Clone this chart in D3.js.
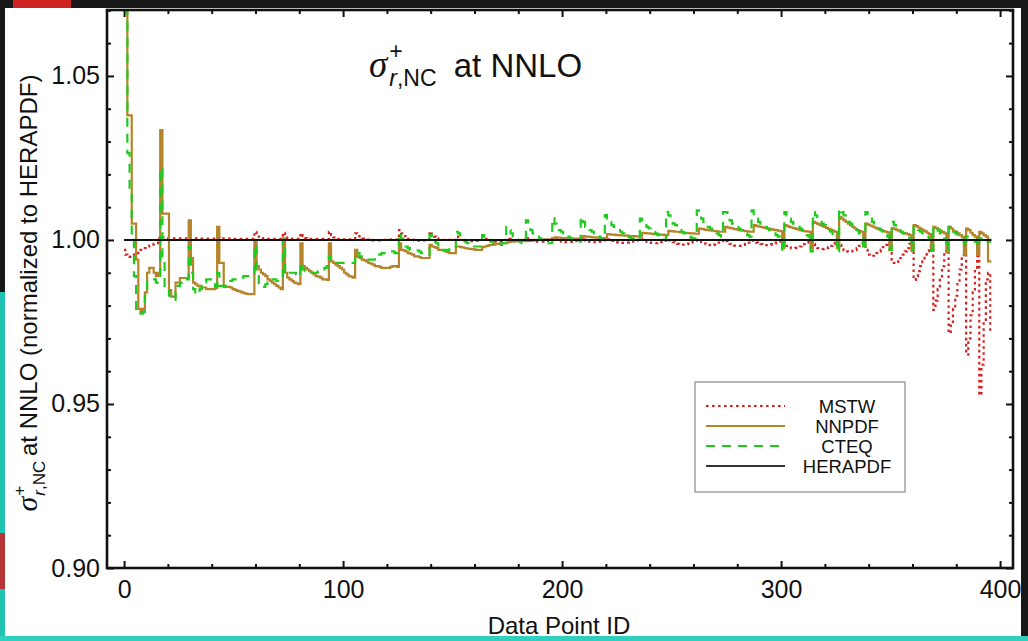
<!DOCTYPE html>
<html>
<head>
<meta charset="utf-8">
<script src="https://cdn.jsdelivr.net/npm/d3@7"></script>
<style>
  html, body { margin: 0; padding: 0; background: #161616; }
  svg { display: block; }
  text { font-family: "Liberation Sans", Arial, Helvetica, sans-serif; fill: #111; }
</style>
</head>
<body>
<svg id="chart" width="1028" height="641"></svg>
<script>
// Ratio to HERAPDF of the NC e+p reduced cross section at NNLO, one value per data point (ID 0..396)
const mstw = [
  0.997, 0.9955, 0.995, 0.9948, 0.9952, 0.9955, 0.996, 0.9965, 0.997, 0.9972, 0.9975, 0.998, 0.9983, 0.9986, 0.9988, 0.999, 1.0005,
  1.001, 1.0008, 1.0006, 1.0005, 1.0005, 1.0005, 1.0005, 1.0005, 1.0005, 1.0005, 1.0005, 1.0005, 1.0005,
  1.0008, 1.0006, 1.0005, 1.0005, 1.0005, 1.0004, 1.0004, 1.0004, 1.0004, 1.0004, 1.0004, 1.0004, 1.0004,
  1.0008, 1.0006, 1.0005, 1.0004, 1.0004, 1.0004, 1.0004, 1.0003, 1.0003, 1.0003, 1.0003, 1.0003, 1.0003, 1.0003, 1.0003, 1.0003, 1.0003,
  1.0025, 1.0015, 1.001, 1.0006, 1.0004, 1.0003, 1.0003, 1.0003, 1.0003, 1.0003, 1.0003, 1.0003, 1.0003,
  1.0022, 1.0012, 1.0006, 1.0004, 1.0003, 1.0003, 1.0003, 1.0003,
  1.002, 1.0012, 1.0006, 1.0004, 1.0003, 1.0003, 1.0003, 1.0003, 1.0003, 1.0003, 1.0003, 1.0003, 1.0003,
  1.0025, 1.0015, 1.0008, 1.0005, 1.0003, 1.0002, 1.0002, 1.0002, 1.0002, 1.0002, 1.0002, 1.0002,
  1.002, 1.0012, 1.0006, 1.0004, 1.0002, 1.0001, 1.0, 1.0, 0.9999, 0.9999, 0.9999, 0.9999, 0.9999, 1.0, 1.0, 1.0, 1.0001, 1.0001, 1.0001, 1.0001,
  1.003, 1.002, 1.0012, 1.0006, 1.0003, 1.0001, 1.0, 0.9999, 0.9998, 0.9998, 0.9998, 0.9999, 0.9999, 1.0,
  1.0025, 1.0015, 1.001, 1.0005, 1.0, 1.0, 1.0, 1.0, 1.0, 1.0, 1.0, 1.0,
  1.001, 1.0005, 1.0, 0.9998, 0.9997, 0.9996, 0.9996, 0.9996, 0.9997, 0.9998, 0.9999, 1.0,
  1.0005, 1.0003, 1.0, 0.9998, 0.9996, 0.9995, 0.9995, 0.9996, 0.9997, 0.9998, 1.0,
  1.0005, 1.0003, 1.0, 0.9998, 0.9997, 0.9996, 0.9997, 0.9998, 1.0,
  1.0005, 1.0003, 1.0, 0.9998, 0.9996, 0.9995, 0.9995, 0.9995, 0.9996, 0.9997, 0.9998, 1.0,
  1.0005, 1.0003, 1.0, 0.9997, 0.9995, 0.9994, 0.9993, 0.9993, 0.9994, 0.9995, 0.9997, 0.9998, 1.0,
  1.0004, 1.0002, 0.9999, 0.9996, 0.9994, 0.9993, 0.9993, 0.9994, 0.9995, 0.9997, 0.9999,
  1.0004, 1.0002, 1.0, 0.9997, 0.9995, 0.9993, 0.9992, 0.9991, 0.9991, 0.9991, 0.9992, 0.9993, 0.9995, 0.9996, 0.9998, 1.0,
  1.0003, 1.0001, 0.9998, 0.9995, 0.9993, 0.9991, 0.999, 0.999, 0.9991, 0.9993, 0.9995, 0.9998,
  1.0002, 0.9999, 0.9996, 0.9993, 0.999, 0.9988, 0.9987, 0.9986, 0.9986, 0.9987, 0.9989, 0.9992, 0.9995, 0.9998,
  1.0, 0.9997, 0.9993, 0.999, 0.9987, 0.9985, 0.9984, 0.9984, 0.9986, 0.9988, 0.9992, 0.9996,
  1.0, 0.9996, 0.9992, 0.9988, 0.9985, 0.9983, 0.9982, 0.9982, 0.9983, 0.9985, 0.9988, 0.9992, 0.9996,
  0.9998, 0.9995, 0.9992, 0.9989, 0.9987, 0.9985, 0.9984, 0.9984, 0.9985, 0.9987, 0.9989, 0.9992, 0.9995, 0.9998,
  0.9995, 0.999, 0.9982, 0.9977, 0.9975, 0.9975, 0.9976, 0.9978, 0.998, 0.9983, 0.9987, 0.9992, 0.9997,
  0.9995, 0.9988, 0.998, 0.9975, 0.9972, 0.9972, 0.9973, 0.9975, 0.9978, 0.9982, 0.9988, 0.9995,
  0.9995, 0.9985, 0.9975, 0.9968, 0.9965, 0.9964, 0.9965, 0.9967, 0.997, 0.9975, 0.9982, 0.999,
  0.999, 0.997, 0.9955, 0.9951, 0.9952, 0.9955, 0.996, 0.9965, 0.997, 0.9978, 0.9985, 0.9992,
  0.998, 0.994, 0.993, 0.9929, 0.9935, 0.9945, 0.9955, 0.9965, 0.9975, 0.9988,
  0.998, 0.9878, 0.989, 0.9905, 0.992, 0.9935, 0.995, 0.9965, 0.998,
  0.997, 0.9787, 0.9815, 0.985, 0.9885, 0.992, 0.996,
  0.997, 0.9716, 0.975, 0.979, 0.983, 0.987, 0.991, 0.995,
  0.996, 0.965, 0.970, 0.977, 0.984, 0.991,
  0.995, 0.9527, 0.962, 0.975, 0.988,
  0.990, 0.972
];

const nnpdf = [
  1.085, 1.085, 1.038, 1.038, 1.005, 1.005, 0.994, 0.979, 0.978, 0.979, 0.984, 0.990, 0.9915, 0.9915, 0.990, 0.989, 0.990,
  1.0335, 1.008, 1.008, 1.008, 0.9847, 0.9827, 0.9827, 0.987, 0.987, 0.9884, 0.9884, 0.9884, 0.9884,
  1.006, 0.9945, 0.987, 0.9865, 0.986, 0.9858, 0.9855, 0.9855, 0.985, 0.985, 0.985, 0.985, 0.9853,
  1.004, 0.993, 0.993, 0.9857, 0.9857, 0.9857, 0.9855, 0.985, 0.9848, 0.9845, 0.9843, 0.984, 0.9838, 0.9836, 0.9835, 0.9835, 0.9835,
  1.000, 0.992, 0.991, 0.990, 0.9895, 0.989, 0.988, 0.9875, 0.987, 0.9865, 0.986, 0.9855, 0.985,
  1.0005, 0.990, 0.9885, 0.988, 0.9875, 0.987, 0.9868, 0.9865,
  0.999, 0.992, 0.9915, 0.991, 0.9905, 0.990, 0.9895, 0.989, 0.9888, 0.9885, 0.988, 0.988, 0.9878,
  0.999, 0.9935, 0.993, 0.9925, 0.992, 0.9915, 0.991, 0.990, 0.9895, 0.989, 0.9888, 0.9885,
  0.997, 0.9948, 0.9945, 0.994, 0.9938, 0.9935, 0.993, 0.9928, 0.9925, 0.992, 0.992, 0.9918, 0.9915, 0.9915, 0.9915, 0.9915, 0.9918, 0.992, 0.992, 0.9918,
  0.999, 0.997, 0.9968, 0.9965, 0.996, 0.9958, 0.9955, 0.995, 0.995, 0.9948, 0.9945, 0.9945, 0.9945, 0.9945,
  0.9985, 0.998, 0.9978, 0.9975, 0.997, 0.997, 0.9968, 0.9965, 0.9963, 0.996, 0.996, 0.996,
  0.998, 0.998, 0.9978, 0.9977, 0.9975, 0.9974, 0.9973, 0.9972, 0.9971, 0.997, 0.997, 0.997,
  0.9978, 0.998, 0.9982, 0.9984, 0.9985, 0.9986, 0.9988, 0.9988, 0.999, 0.999, 0.999,
  0.9992, 0.9994, 0.9995, 0.9995, 0.9996, 0.9996, 0.9997, 0.9997, 0.9998,
  0.9996, 0.9997, 0.9998, 0.9999, 1.0, 1.0, 1.0, 1.0001, 1.0001, 1.0002, 1.0002, 1.0002,
  1.0002, 1.0008, 1.0007, 1.0007, 1.0006, 1.0006, 1.0005, 1.0005, 1.0005, 1.0004, 1.0004, 1.0004, 1.0004,
  1.0004, 1.0012, 1.001, 1.001, 1.0009, 1.0008, 1.0008, 1.0007, 1.0007, 1.0006, 1.0006,
  1.0006, 1.0018, 1.0017, 1.0016, 1.0016, 1.0015, 1.0015, 1.0014, 1.0014, 1.0013, 1.0013, 1.0012, 1.0012, 1.0012, 1.0011, 1.0011,
  1.0011, 1.0022, 1.0021, 1.002, 1.002, 1.0019, 1.0018, 1.0018, 1.0017, 1.0016, 1.0016, 1.0015,
  1.0015, 1.0028, 1.0027, 1.0026, 1.0025, 1.0025, 1.0024, 1.0023, 1.0022, 1.0022, 1.0021, 1.002, 1.002, 1.0019,
  1.0019, 1.0035, 1.0034, 1.0032, 1.0031, 1.003, 1.0029, 1.0028, 1.0027, 1.0026, 1.0025, 1.0025,
  1.0025, 1.004, 1.0038, 1.0036, 1.0035, 1.0033, 1.0032, 1.003, 1.0029, 1.0028, 1.0027, 1.0026, 1.0025,
  1.0025, 1.0045, 1.0043, 1.0041, 1.004, 1.0038, 1.0037, 1.0035, 1.0034, 1.0032, 1.0031, 1.003, 1.0028, 1.0027,
  0.9975, 1.0045, 1.0043, 1.004, 1.0038, 1.0036, 1.0034, 1.0032, 1.003, 1.0028, 1.0027, 1.0026, 1.0025,
  0.9975, 1.0055, 1.0052, 1.0049, 1.0046, 1.0043, 1.004, 1.0037, 1.0034, 1.0031, 1.0028, 1.0025,
  0.9975, 1.007, 1.0065, 1.006, 1.0055, 1.005, 1.0045, 1.004, 1.0035, 1.003, 1.0027, 1.0025,
  0.998, 1.005, 1.0047, 1.0044, 1.0041, 1.0038, 1.0035, 1.0032, 1.0029, 1.0027, 1.0025, 1.0023,
  0.997, 1.0036, 1.0034, 1.0031, 1.0028, 1.0025, 1.0022, 1.002, 1.0018, 1.0015,
  0.9967, 1.0045, 1.0042, 1.0038, 1.0034, 1.003, 1.0026, 1.0022, 1.0018,
  0.9967, 1.004, 1.0036, 1.0032, 1.0028, 1.0024, 1.002,
  0.9962, 1.004, 1.0035, 1.0028, 1.0025, 1.002, 1.0015, 1.001,
  0.9955, 1.0035, 1.003, 1.0022, 1.0015, 1.001,
  0.9955, 1.0025, 1.002, 1.0015, 1.001,
  0.9935, 0.9935
];

const cteq = [
  1.085, 1.085, 1.0265, 1.015, 1.000, 0.989, 0.9785, 0.978, 0.9775, 0.978, 0.983, 0.988, 0.988, 0.988, 0.988, 0.987, 0.987,
  1.022, 0.995, 0.986, 0.985, 0.983, 0.9817, 0.9817, 0.984, 0.986, 0.987, 0.988, 0.988, 0.988,
  0.998, 0.990, 0.985, 0.9835, 0.9835, 0.985, 0.986, 0.987, 0.988, 0.988, 0.988, 0.987, 0.986,
  0.990, 0.986, 0.986, 0.986, 0.9865, 0.987, 0.9875, 0.988, 0.988, 0.988, 0.988, 0.9885, 0.989, 0.989, 0.989, 0.989, 0.989,
  0.9985, 0.989, 0.9857, 0.9857, 0.9857, 0.9865, 0.987, 0.988, 0.988, 0.988, 0.9875, 0.9875, 0.9875,
  1.000, 0.9895, 0.990, 0.990, 0.990, 0.990, 0.9895, 0.989,
  0.993, 0.991, 0.9905, 0.990, 0.990, 0.990, 0.990, 0.990, 0.9905, 0.991, 0.991, 0.9915, 0.992,
  0.995, 0.994, 0.9935, 0.993, 0.993, 0.993, 0.993, 0.993, 0.993, 0.993, 0.993, 0.993,
  0.996, 0.996, 0.995, 0.9945, 0.9945, 0.994, 0.994, 0.994, 0.994, 0.9945, 0.995, 0.9955, 0.996, 0.996, 0.9965, 0.9965, 0.9965, 0.9965, 0.996, 0.996,
  1.002, 1.0005, 0.999, 0.998, 0.9975, 0.997, 0.997, 0.997, 0.9968, 0.9965, 0.996, 0.9958, 0.9955, 0.9955,
  1.0015, 1.0005, 0.9995, 0.999, 0.998, 0.9975, 0.997, 0.997, 0.997, 0.9975, 0.998, 0.998,
  1.0025, 1.002, 1.001, 1.0, 0.9995, 0.999, 0.9985, 0.998, 0.998, 0.998, 0.998, 0.998,
  1.0015, 1.001, 1.0005, 1.0, 0.9995, 0.999, 0.999, 0.9985, 0.9985, 0.999, 0.999,
  1.004, 1.003, 1.002, 1.001, 1.0005, 1.0, 0.9995, 0.999, 0.999,
  1.006, 1.0045, 1.003, 1.002, 1.0015, 1.001, 1.0005, 1.0, 0.9995, 0.999, 0.999, 0.999,
  1.0067, 1.005, 1.0035, 1.003, 1.0025, 1.002, 1.0015, 1.001, 1.0005, 1.0, 0.9998, 0.9995, 0.9995,
  1.007, 1.0055, 1.004, 1.0035, 1.003, 1.0025, 1.002, 1.0015, 1.001, 1.0005, 1.0,
  1.0076, 1.0065, 1.0055, 1.0045, 1.004, 1.0035, 1.003, 1.0025, 1.002, 1.0015, 1.001, 1.0008, 1.0005, 1.0003, 1.0, 1.0,
  1.0065, 1.0055, 1.0045, 1.004, 1.0035, 1.003, 1.0025, 1.002, 1.0015, 1.001, 1.0005, 1.0,
  1.0085, 1.0075, 1.006, 1.005, 1.0045, 1.0035, 1.003, 1.0025, 1.002, 1.0015, 1.001, 1.0008, 1.0005, 1.0003,
  1.009, 1.0075, 1.0065, 1.0055, 1.0045, 1.004, 1.0035, 1.003, 1.0025, 1.002, 1.0015, 1.001,
  1.0085, 1.0085, 1.007, 1.006, 1.005, 1.0045, 1.004, 1.0035, 1.003, 1.0025, 1.002, 1.0015, 1.001,
  1.009, 1.0075, 1.0065, 1.0055, 1.005, 1.0045, 1.004, 1.0035, 1.003, 1.0025, 1.002, 1.0015, 1.001, 1.0005,
  0.9965, 1.0085, 1.0075, 1.0065, 1.0055, 1.005, 1.0045, 1.004, 1.0035, 1.003, 1.002, 1.0015, 1.001,
  0.9965, 1.0085, 1.0075, 1.0065, 1.0055, 1.005, 1.0045, 1.004, 1.003, 1.0025, 1.0015, 1.001,
  0.9965, 1.0095, 1.0085, 1.0075, 1.0065, 1.0055, 1.005, 1.0045, 1.004, 1.003, 1.002, 1.001,
  0.997, 1.0085, 1.0075, 1.0065, 1.0055, 1.0045, 1.004, 1.0035, 1.003, 1.0025, 1.0015, 1.001,
  0.997, 1.0055, 1.0045, 1.0035, 1.003, 1.0025, 1.002, 1.0015, 1.001, 1.0005,
  0.997, 1.004, 1.0035, 1.003, 1.0025, 1.002, 1.0015, 1.001, 1.0005,
  0.997, 1.004, 1.0035, 1.0028, 1.002, 1.0012, 1.0005,
  0.997, 1.004, 1.003, 1.0025, 1.002, 1.0012, 1.0005, 1.0,
  0.998, 1.001, 1.001, 1.0005, 1.0, 0.9995,
  0.998, 1.0005, 1.0003, 1.0, 0.9995,
  0.9995, 1.0
];

// HERAPDF is the reference set: its ratio to itself is unity everywhere
const herapdfRatio = 1.0;

// Axis ticks
const xMajorTicks = [0, 100, 200, 300, 400];
const xMinorTicks = [20, 40, 60, 80, 120, 140, 160, 180, 220, 240, 260, 280, 320, 340, 360, 380];
const yMajorTicks = [0.90, 0.95, 1.00, 1.05];
const yMinorTicks = [0.91, 0.92, 0.93, 0.94, 0.96, 0.97, 0.98, 0.99, 1.01, 1.02, 1.03, 1.04, 1.06, 1.07];

const legendLabels = ["MSTW", "NNPDF", "CTEQ", "HERAPDF"];

// ---------------------------------------------------------------------------
const svg = d3.select("#chart");
const W = 1028, H = 641;
const plot = { left: 107, right: 1013, top: 10, bottom: 568 };

// surrounding backdrop and white sheet
svg.append("rect").attr("x", 0).attr("y", 0).attr("width", W).attr("height", H).attr("fill", "#171717");
svg.append("rect").attr("x", 0).attr("y", 292).attr("width", 6).attr("height", 349).attr("fill", "#22c3b3");
svg.append("rect").attr("x", 0).attr("y", 533).attr("width", 6).attr("height", 56).attr("fill", "#b53434");
svg.append("rect").attr("x", 13).attr("y", 0).attr("width", 58).attr("height", 8).attr("fill", "#cf2323");
svg.append("rect").attr("x", 0).attr("y", 636).attr("width", W).attr("height", 5).attr("fill", "#2fd0c0");
svg.append("rect").attr("x", 5).attr("y", 8).attr("width", 1016).attr("height", 628).attr("fill", "#ffffff");

const x = d3.scaleLinear().domain([-7.8, 405.9]).range([plot.left, plot.right]);
const y = d3.scaleLinear().domain([0.90, 1.0701]).range([plot.bottom, plot.top]);

svg.append("defs").append("clipPath").attr("id", "plot-clip")
  .append("rect")
  .attr("x", plot.left).attr("y", plot.top)
  .attr("width", plot.right - plot.left).attr("height", plot.bottom - plot.top);

const ids = nnpdf.map((_, i) => i);
const n = Math.min(mstw.length, nnpdf.length, cteq.length);

const stepLine = d3.line()
  .x(d => x(d[0]))
  .y(d => y(d[1]))
  .curve(d3.curveStep);

const series = [
  { name: "MSTW",  values: mstw,  color: "#d42222", width: 2.2, dash: "2.6,3.4" },
  { name: "NNPDF", values: nnpdf, color: "#b5842a", width: 2.2, dash: null },
  { name: "CTEQ",  values: cteq,  color: "#1fcb1f", width: 2.2, dash: "9,7" }
];

const lines = svg.append("g").attr("clip-path", "url(#plot-clip)");
series.forEach(s => {
  lines.append("path")
    .datum(ids.slice(0, n).map(i => [i, s.values[i]]))
    .attr("d", stepLine)
    .attr("fill", "none")
    .attr("stroke", s.color)
    .attr("stroke-width", s.width)
    .attr("stroke-dasharray", s.dash)
    .attr("stroke-linejoin", "miter");
});
lines.append("path")
  .datum([[ids[0], herapdfRatio], [ids[n - 1], herapdfRatio]])
  .attr("d", d3.line().x(d => x(d[0])).y(d => y(d[1])))
  .attr("stroke", "#111")
  .attr("stroke-width", 2)
  .attr("fill", "none");

// axes: ticks on all four sides, pointing inwards
function styleAxis(g) {
  g.select(".domain").remove();
  g.selectAll(".tick line").attr("stroke", "#111").attr("stroke-width", 2);
}
const labelSize = 25;

svg.append("g").attr("transform", `translate(0,${plot.bottom})`)
  .call(d3.axisBottom(x).tickValues(xMajorTicks).tickSizeInner(-7).tickSizeOuter(0).tickPadding(12).tickFormat(d3.format("d")))
  .call(styleAxis)
  .call(g => g.selectAll("text").attr("font-size", labelSize).attr("fill", "#111"));
svg.append("g").attr("transform", `translate(0,${plot.bottom})`)
  .call(d3.axisBottom(x).tickValues(xMinorTicks).tickSizeInner(-4).tickSizeOuter(0).tickFormat(""))
  .call(styleAxis);
svg.append("g").attr("transform", `translate(0,${plot.top})`)
  .call(d3.axisTop(x).tickValues(xMajorTicks).tickSizeInner(-7).tickSizeOuter(0).tickFormat(""))
  .call(styleAxis);
svg.append("g").attr("transform", `translate(0,${plot.top})`)
  .call(d3.axisTop(x).tickValues(xMinorTicks).tickSizeInner(-4).tickSizeOuter(0).tickFormat(""))
  .call(styleAxis);

svg.append("g").attr("transform", `translate(${plot.left},0)`)
  .call(d3.axisLeft(y).tickValues(yMajorTicks).tickSizeInner(-7).tickSizeOuter(0).tickPadding(7).tickFormat(d3.format(".2f")))
  .call(styleAxis)
  .call(g => g.selectAll("text").attr("font-size", labelSize).attr("fill", "#111"));
svg.append("g").attr("transform", `translate(${plot.left},0)`)
  .call(d3.axisLeft(y).tickValues(yMinorTicks).tickSizeInner(-4).tickSizeOuter(0).tickFormat(""))
  .call(styleAxis);
svg.append("g").attr("transform", `translate(${plot.right},0)`)
  .call(d3.axisRight(y).tickValues(yMajorTicks).tickSizeInner(-7).tickSizeOuter(0).tickFormat(""))
  .call(styleAxis);
svg.append("g").attr("transform", `translate(${plot.right},0)`)
  .call(d3.axisRight(y).tickValues(yMinorTicks).tickSizeInner(-4).tickSizeOuter(0).tickFormat(""))
  .call(styleAxis);

// frame
svg.append("rect")
  .attr("x", plot.left).attr("y", plot.top)
  .attr("width", plot.right - plot.left).attr("height", plot.bottom - plot.top)
  .attr("fill", "none").attr("stroke", "#111").attr("stroke-width", 2.6);

// x axis title
svg.append("text")
  .attr("x", 559).attr("y", 634)
  .attr("text-anchor", "middle")
  .attr("font-size", 24)
  .text("Data Point ID");

// sigma^+_{r,NC} followed by a plain-text tail
function sigmaLabel(t, s) {
  t.append("tspan").attr("font-family", "'Liberation Serif', 'Times New Roman', serif")
    .attr("font-style", "italic").attr("font-size", s.sigma).text("σ");
  t.append("tspan").attr("font-size", s.script).attr("dx", s.supDx).attr("dy", -s.supUp).text("+");
  t.append("tspan").attr("font-size", s.script).attr("font-style", "italic")
    .attr("dx", -s.plusW).attr("dy", s.supUp + s.subDown).text("r");
  t.append("tspan").attr("font-size", s.script).text(",NC");
  t.append("tspan").attr("font-size", s.main).attr("dx", s.gap).attr("dy", -s.subDown).text(s.tail);
}

// y axis title
const yTitle = svg.append("text")
  .attr("transform", "translate(37,293) rotate(-90)")
  .attr("text-anchor", "middle");
sigmaLabel(yTitle, { sigma: 30, script: 17, main: 24, supDx: 1, supUp: 12, subDown: 8, plusW: 10, gap: -2, tail: " at NNLO (normalized to HERAPDF)" });

// title inside the frame
const title = svg.append("text").attr("x", 369).attr("y", 77);
sigmaLabel(title, { sigma: 37, script: 23, main: 33, supDx: 2, supUp: 18, subDown: 9, plusW: 13.4, gap: 8, tail: " at NNLO" });

// legend
const lg = svg.append("g");
lg.append("rect").attr("x", 695).attr("y", 382).attr("width", 210).attr("height", 110)
  .attr("fill", "#fff").attr("stroke", "#8a8a8a").attr("stroke-width", 1.2);
const legendStyles = [
  { color: "#d42222", dash: "2.6,3.4" },
  { color: "#b5842a", dash: null },
  { color: "#1fcb1f", dash: "9,7" },
  { color: "#333", dash: null }
];
const rowY = d3.scalePoint().domain(legendLabels).range([406, 466]);
legendLabels.forEach((lab, i) => {
  lg.append("line")
    .attr("x1", 706).attr("x2", 785)
    .attr("y1", rowY(lab)).attr("y2", rowY(lab))
    .attr("stroke", legendStyles[i].color)
    .attr("stroke-width", 2.2)
    .attr("stroke-dasharray", legendStyles[i].dash);
  lg.append("text")
    .attr("x", 847).attr("y", rowY(lab) + 6.5)
    .attr("text-anchor", "middle")
    .attr("font-size", 18.5)
    .text(lab);
});
</script>
</body>
</html>
